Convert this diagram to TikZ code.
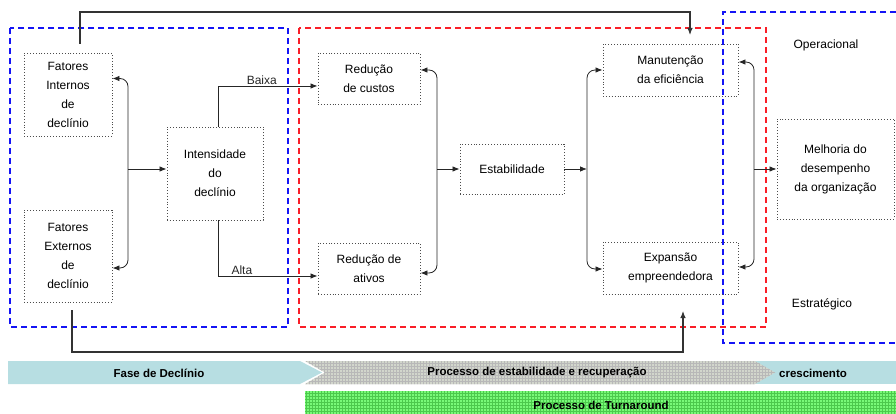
\documentclass[tikz,border=0pt]{standalone}
\usepackage{fontspec}
\setmainfont{Liberation Sans}
\usetikzlibrary{arrows.meta,patterns}
\definecolor{fasecol}{RGB}{183,222,226}
\definecolor{grisband}{RGB}{210,214,204}
\definecolor{verdeband}{RGB}{120,250,120}
\definecolor{azul}{RGB}{20,20,245}
\definecolor{verm}{RGB}{250,30,40}

\begin{document}
\begin{tikzpicture}[x=1pt,y=-1pt,
    box/.style={draw=black!70,dotted,line width=0.9pt,align=center,font=\fontsize{12}{19}\selectfont,inner sep=2pt},
    lbl/.style={font=\fontsize{12}{14}\selectfont,inner sep=1pt},
    band/.style={font=\bfseries\fontsize{11.5}{13}\selectfont,inner sep=1pt},
    seta/.style={line width=0.8pt,black!85},
    longa/.style={line width=1.1pt,black!80},
    >={Latex[length=7pt,width=5.5pt]}]
            \useasboundingbox (0,0) rectangle (896,414);

            % regioes tracejadas
            \draw[azul,dashed,line width=1.1pt,dash pattern=on 6pt off 4pt] (10,28) rectangle (288,327);
            \draw[verm,dashed,line width=1.1pt,dash pattern=on 6pt off 4pt] (299,28) rectangle (766,327);
            \draw[azul,dashed,line width=1.1pt,dash pattern=on 6pt off 4pt] (896,12) -- (723,12) -- (723,343) -- (896,343);

            \node (fi) at (68,94.5) [box,minimum width=88pt,minimum height=83pt] {Fatores\\Internos\\de\\declínio};
            \node (fe) at (68,256) [box,minimum width=88pt,minimum height=92pt] {Fatores\\Externos\\de\\declínio};
            \node (int) at (215,173.5) [box,minimum width=96pt,minimum height=93pt] {Intensidade\\do\\declínio};
            \node (rc) at (369,78.5) [box,minimum width=102pt,minimum height=51pt] {Redução\\de custos};
            \node (ra) at (369,268.5) [box,minimum width=102pt,minimum height=51pt] {Redução de\\ativos};
            \node (est) at (512,169) [box,minimum width=104pt,minimum height=50pt] {Estabilidade};
            \node (me) at (670.5,70) [box,minimum width=135pt,minimum height=52pt] {Manutenção\\da eficiência};
            \node (ee) at (670.5,268) [box,minimum width=135pt,minimum height=52pt] {Expansão\\empreendedora};
            \node (mel) at (835.5,169) [box,minimum width=117pt,minimum height=100pt] {Melhoria do\\desempenho\\da organização};

            \node (op) at (826,45) [lbl] {Operacional};
            \node (estr) at (822,304) [lbl] {Estratégico};

            \coordinate (b1) at (128,169);
            \coordinate (b2) at (437,169);
            \coordinate (b3) at (587,169);
            \coordinate (b4) at (754,169);

            \draw[seta,<->,rounded corners=8pt] ([yshift=16pt]fi.east) -| (b1) |- ([yshift=-12pt]fe.east);
            \draw[seta,->] (b1) -- (b1 -| int.west);

            \draw[seta,->] ([xshift=3pt]int.north) |- ([yshift=-7.5pt]rc.west) node[lbl,pos=0.72,above] (baixa) {Baixa};
            \draw[seta,->] ([xshift=3pt]int.south) |- ([yshift=-7.5pt]ra.west) node[lbl,pos=0.62,above] (alta) {Alta};

            \draw[seta,<->,rounded corners=8pt] ([yshift=8.5pt]rc.east) -| (b2) |- ([yshift=-4.5pt]ra.east);
            \draw[seta,->] (b2) -- (est);
            \draw[seta,->] (est) -- (b3);

            \draw[seta,<->,rounded corners=8pt] (me.west) -| (b3) |- ([yshift=-1pt]ee.west);
            \draw[seta,<->,rounded corners=8pt] ([yshift=8pt]me.east) -| (b4) |- ([yshift=1pt]ee.east);
            \draw[seta,->] (b4) -- (mel);

            % retornos
            \coordinate (t1) at (80,44);
            \coordinate (t2) at (690,35);
            \coordinate (u1) at (72,310);
            \coordinate (u2) at (683,311);
            \draw[longa,->] (t1) -- (80,12) -| (t2);
            \draw[longa,->] (u1) -- (72,352) -| (u2);

            % faixas
            \fill[fasecol] (730,361) rectangle (896,384);
            \fill[fasecol] (8,361) -- (300,361) -- (322,372.5) -- (300,384) -- (8,384) -- cycle;
            \fill[grisband] (305,361) -- (755,361) -- (775,372.5) -- (755,384) -- (305,384) -- (325,372.5) -- cycle;
            \fill[pattern=grid,pattern color=black!28] (305,361) -- (755,361) -- (775,372.5) -- (755,384) -- (305,384) -- (325,372.5) -- cycle;
            \fill[verdeband] (305,391) rectangle (896,414);
            \fill[pattern=grid,pattern color=green!70!black!70] (305,391) rectangle (896,414);

            \node (fase) at (159,373) [band] {Fase de Declínio};
            \node (proc) at (537,373) [band] {Processo de estabilidade e recuperação};
            \node (cresc) at (813,373) [band] {crescimento};
            \node (turn) at (601,405) [band] {Processo de Turnaround};

        \end{tikzpicture}
\end{document}
